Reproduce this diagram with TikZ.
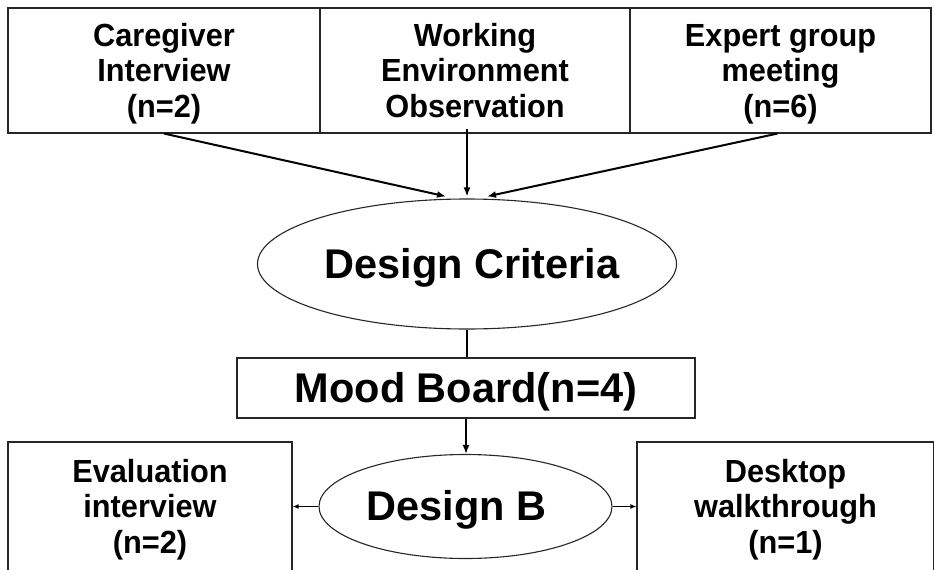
\documentclass[tikz,border=0pt]{standalone}
\usepackage{fontspec}
\setmainfont{Liberation Sans}
\newfontfamily\labelfont[FakeStretch=0.96]{Liberation Sans}
\usetikzlibrary{shapes.geometric,arrows.meta}
% one line of label text: height of a capital, no depth
\newcommand{\cl}[1]{\vphantom{C}\smash{#1}}
\begin{document}
\begin{tikzpicture}[x=1pt,y=-1pt,
  box/.style={draw=black!85,line width=1.1pt,rectangle,inner sep=0pt,align=center},
  oval/.style={draw=black!85,line width=1.1pt,ellipse,inner sep=0pt},
  small/.style={font=\labelfont\bfseries\fontsize{32}{35.5}\selectfont},
  big/.style={font=\bfseries\fontsize{41.5}{46}\selectfont},
  arr/.style={line width=1.6pt,-{Latex[length=9pt,width=7pt]}},
  tiny/.style={line width=1.6pt,-{Latex[length=6pt,width=5pt]}},
  link/.style={line width=1.4pt}]
\useasboundingbox (0,0) rectangle (934,570);
% sources
\node[box,small,minimum width=312pt,minimum height=125pt] (care) at (164,70.5)
  {\cl{Caregiver}\\\cl{Interview}\\\cl{(n=2)}};
\node[box,small,minimum width=310pt,minimum height=125pt] (work) at (475,70.5)
  {\cl{Working}\\\cl{Environment}\\\cl{Observation}};
\node[box,small,minimum width=301pt,minimum height=125pt] (expert) at (780.5,70.5)
  {\cl{Expert group}\\\cl{meeting}\\\cl{(n=6)}};
% criteria and mood board
\node[oval,big,minimum width=419pt,minimum height=130pt] (crit) at (467,264)
  {\makebox[0pt]{\hspace*{10pt}\cl{Design Criteria}}};
\node[box,big,minimum width=458pt,minimum height=60pt] (mood) at (466,388)
  {\cl{Mood Board(n=4)}};
\node[oval,big,minimum width=293pt,minimum height=104pt] (db) at (465.5,506.5)
  {\makebox[0pt]{\cl{Design B}\hspace*{18pt}}};
% evaluation
\node[box,small,minimum width=284pt,minimum height=129pt] (ev) at (150,506.5)
  {\cl{Evaluation}\\\cl{interview}\\\cl{(n=2)}};
\node[box,small,minimum width=297pt,minimum height=129pt] (desk) at (785.5,506.5)
  {\cl{Desktop}\\\cl{walkthrough}\\\cl{(n=1)}};
% connectors
\draw[arr,line width=2pt] (care.south) -- ([xshift=-21pt,yshift=2pt]crit.north);
\draw[arr] ([yshift=5pt]work.south -| crit.north) -- ([yshift=2pt]crit.north);
\draw[arr,line width=2pt] ([xshift=-3pt]expert.south) -- ([xshift=20pt,yshift=2pt]crit.north);
\draw[link] (crit.south) -- (crit.south |- mood.north);
\draw[arr] (mood.south) -- (mood.south |- db.north);
\draw[tiny] (db.west) -- (ev.east);
\draw[tiny] (db.east) -- (desk.west);
\end{tikzpicture}
\end{document}
